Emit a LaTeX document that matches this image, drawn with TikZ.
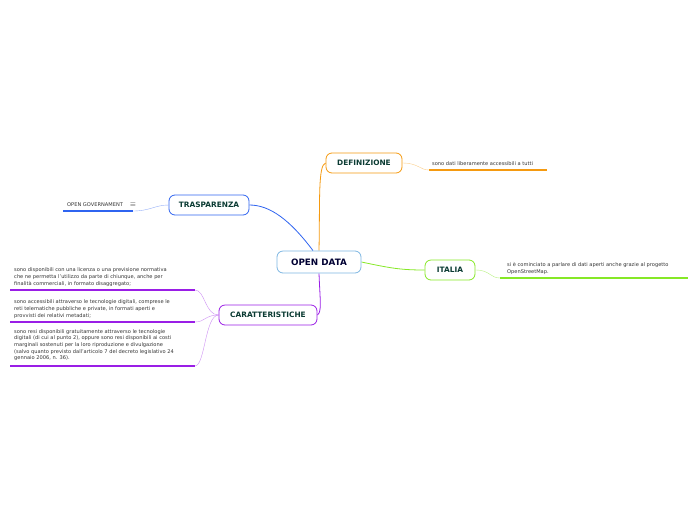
\documentclass[tikz,border=0pt]{standalone}
\usepackage{fontspec}
\setmainfont{DejaVu Sans}
\usetikzlibrary{calc, positioning, backgrounds}
\definecolor{cBlue}{HTML}{2F64F0}
\definecolor{cOrange}{HTML}{F59A10}
\definecolor{cGreen}{HTML}{86E826}
\definecolor{cPurple}{HTML}{9A1EE6}
\definecolor{cSky}{HTML}{7DB6E2}
\definecolor{cText}{HTML}{0B3B33}
\tikzset{
    topic/.style={rounded corners=6pt, thick, fill=white, align=center,
        font=\bfseries\fontsize{7.4}{8}\selectfont, text=cText, minimum height=20pt},
    leaf/.style={align=left, anchor=south west, inner sep=1pt,
        font=\fontsize{5.1}{7.2}\selectfont, text=black!80},
    rule/.style={line width=1.1pt},
}
\begin{document}
\begin{tikzpicture}[x=1pt, y=-1pt]
    \useasboundingbox (0,0) rectangle (696,520);

    % Nodes
    \node (od) [topic, draw=cSky, minimum width=84pt, minimum height=22pt,
        font=\bfseries\fontsize{8.8}{9}\selectfont, text=black!80!blue] at (319,262) {OPEN DATA};
    \node (def) [topic, draw=cOrange, minimum width=76pt] at (364,163) {DEFINIZIONE};
    \node (tra) [topic, draw=cBlue, minimum width=80pt] at (209,205) {TRASPARENZA};
    \node (ita) [topic, draw=cGreen, minimum width=50pt] at (450,270) {ITALIA};
    \node (car) [topic, draw=cPurple, minimum width=98pt] at (268,315) {CARATTERISTICHE};

    % Leaves
    \node (l1) [leaf] at (431,167) {sono dati liberamente accessibili a tutti};
    \node (l2) [leaf] at (66,208) {OPEN GOVERNAMENT\hspace{7pt}{\fontsize{7}{8}\selectfont$\equiv$}};
    \node (l3) [leaf] at (506,276) {si è cominciato a parlare di dati aperti anche grazie al progetto\\OpenStreetMap.};
    \node (l4) [leaf] at (13,288) {sono disponibili con una licenza o una previsione normativa\\che ne permetta l'utilizzo da parte di chiunque, anche per\\finalità commerciali, in formato disaggregato;};
    \node (l5) [leaf] at (13,320) {sono accessibili attraverso le tecnologie digitali, comprese le\\reti telematiche pubbliche e private, in formati aperti e\\provvisti dei relativi metadati;};
    \node (l6) [leaf, font=\fontsize{5.1}{6.6}\selectfont] at (13,362) {sono resi disponibili gratuitamente attraverso le tecnologie\\digitali (di cui al punto 2), oppure sono resi disponibili ai costi\\marginali sostenuti per la loro riproduzione e divulgazione\\(salvo quanto previsto dall'articolo 7 del decreto legislativo 24\\gennaio 2006, n. 36).};

    \coordinate (u1a) at (429,170); \coordinate (u1b) at (547,170);
    \coordinate (u2a) at (63,211);  \coordinate (u2b) at (133,211);
    \coordinate (u3a) at (500,278); \coordinate (u3b) at (688,278);
    \coordinate (u4a) at (10,290);  \coordinate (u4b) at (195,290);
    \coordinate (u5a) at (10,322);  \coordinate (u5b) at (195,322);
    \coordinate (u6a) at (10,366);  \coordinate (u6b) at (195,366);

    % Connectors
    \begin{scope}[on background layer]
        \draw [cOrange, thick] (od.north) .. controls (320,200) and (318,165) .. (def.west);
        \draw [cBlue, thick] ($(od.north)+(-6,0)$) .. controls (290,220) and (270,205) .. (tra.east);
        \draw [cGreen, thick] (od.east) .. controls (390,268) and (400,270) .. (ita.west);
        \draw [cPurple, thick] (od.south) .. controls (320,300) and (322,312) .. (car.east);

        \draw [cOrange!50] (def.east) .. controls (418,163) and (420,170) .. (u1a);
        \draw [cBlue!50] (tra.west) .. controls (155,205) and (150,211) .. (u2b);
        \draw [cGreen!60] (ita.east) .. controls (490,270) and (490,278) .. (u3a);
        \draw [cPurple!50] (car.west) .. controls (205,315) and (205,290) .. (u4b);
        \draw [cPurple!50] (car.west) .. controls (205,315) and (205,322) .. (u5b);
        \draw [cPurple!50] (car.west) .. controls (205,315) and (205,366) .. (u6b);
    \end{scope}

    \draw [rule, cOrange] (u1a) -- (u1b);
    \draw [rule, cBlue] (u2a) -- (u2b);
    \draw [rule, cGreen] (u3a) -- (u3b);
    \draw [rule, cPurple] (u4a) -- (u4b);
    \draw [rule, cPurple] (u5a) -- (u5b);
    \draw [rule, cPurple] (u6a) -- (u6b);

\end{tikzpicture}
\end{document}
